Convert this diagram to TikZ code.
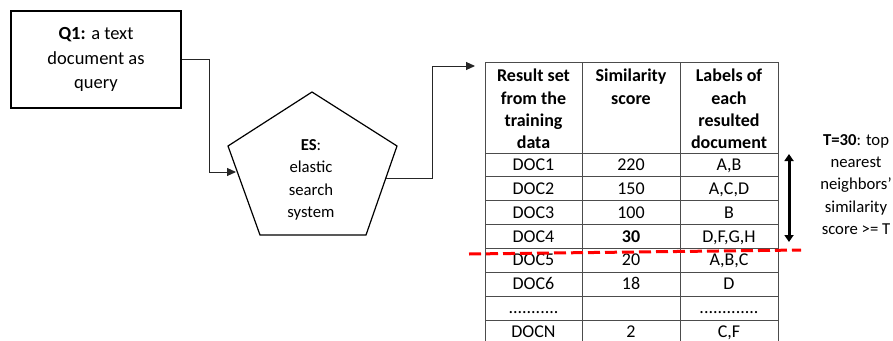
\documentclass[tikz,border=0pt]{standalone}
\usepackage{fontspec}
\setmainfont{Carlito}
\usetikzlibrary{arrows.meta}

\newcommand\dotsdoc{...........}
\newcommand\dotslab{.............}

\tikzset{
  flow/.style={draw=black!85, line width=1pt, -{Triangle[length=9pt,width=8pt]}},
  grid/.style={draw=black!70, line width=0.9pt},
  cell/.style={anchor=base, inner sep=0pt, font=\fontsize{18}{22.3}\selectfont},
  hd/.style={anchor=north, align=center, inner sep=2pt, font=\fontsize{18}{22.3}\selectfont\bfseries},
  note/.style={align=center, font=\fontsize{16.7}{22.3}\selectfont},
  cut/.style={draw=red, line width=3pt, dash pattern=on 12pt off 5pt},
}

\begin{document}
\begin{tikzpicture}[x=1pt, y=-1pt]
  \useasboundingbox (0,0) rectangle (893,340);
  % query
  \node (q1) [draw, line width=1.5pt, minimum width=170pt, minimum height=97pt, align=center,
    font=\fontsize{18.5}{24.5}\selectfont] at (96,59.5) {\textbf{Q1:} a text\\document as\\query};
  % elastic search pentagon
  \coordinate (p1) at (312,92);
  \coordinate (p2) at (397,146);
  \coordinate (p3) at (366,235);
  \coordinate (p4) at (260,235);
  \coordinate (p5) at (228,146);
  \draw[line width=1.2pt] (p1) -- (p2) -- (p3) -- (p4) -- (p5) -- cycle;
  \node (es) [note] at (311,180) {\textbf{ES}:\\elastic\\search\\system};
  \coordinate (esin) at (236,172);
  \coordinate (esout) at (386,178);
  \coordinate (tabin) at (475,66);
  \draw[flow] (q1.east) -- ++(28,0) |- (esin);
  \draw[flow] (esout) -- ++(46,0) |- (tabin);
  % table grid
  \foreach \y in {62,153,176.9,200.75,224.6,248.5,272.4,296.25,320.1}
    \draw[grid] (485,\y) -- (778,\y);
  \foreach \x in {485,582,680,778}
    \draw[grid] (\x,62) -- (\x,345);
  % header
  \node (h1) [hd] at (533.5,67) {Result set\\from the\\training\\data};
  \node (h2) [hd] at (631,67) {Similarity\\score};
  \node (h3) [hd] at (729,67) {Labels of\\each\\resulted\\document};
  % rows
  \foreach \d/\s/\l [count=\i] in {DOC1/220/{A,B}, DOC2/150/{A,C,D}, DOC3/100/B,
      DOC4/\textbf{30}/{D,F,G,H}, DOC5/20/{A,B,C}, DOC6/18/D,
      \dotsdoc/{}/\dotslab, DOCN/2/{C,F}}{
    \pgfmathsetmacro\yy{153+23.875*(\i-0.5)+5.5}
    \node (d\i) [cell] at (533.5,\yy) {\d};
    \node (s\i) [cell] at (631,\yy) {\s};
    \node (l\i) [cell] at (729,\yy) {\l};
  }
  % threshold
  \coordinate (nntop) at (789,154);
  \coordinate (nnbot) at (789,242);
  \draw[line width=3pt, {Triangle[length=7pt,width=9pt]}-{Triangle[length=7pt,width=9pt]}] (nntop) -- (nnbot);
  \draw[cut] (469,254) -- (801,250);
  \node (thr) [note] at (856,184.5) {\textbf{T=30}: top\\nearest\\neighbors'\\similarity\\score >= T};
\end{tikzpicture}
\end{document}
